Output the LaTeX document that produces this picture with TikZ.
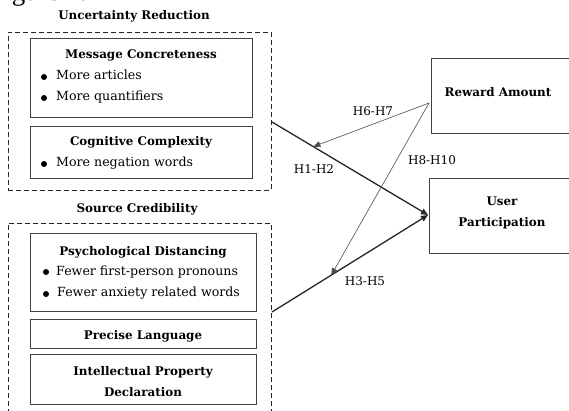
\documentclass[tikz,border=0pt]{standalone}
\usepackage{fontspec}
\setmainfont{DejaVu Serif}
\newfontfamily\timesf{Liberation Serif}
\usetikzlibrary{arrows.meta}
\begin{document}
\begin{tikzpicture}[x=1pt,y=-1pt,
  solidbox/.style={draw=black!75, line width=1.3pt, inner sep=0pt, anchor=north west},
  dashbox/.style={draw=black!85, dash pattern=on 5pt off 3pt, line width=0.9pt, inner sep=0pt, anchor=north west},
  ttl/.style={font=\bfseries\fontsize{11.9}{13}\selectfont, inner sep=0pt},
  txt/.style={font=\fontsize{12.6}{15}\selectfont, inner sep=0pt, anchor=base west},
  hlab/.style={font=\fontsize{12}{14}\selectfont, inner sep=0pt},
  bul/.style={circle, fill=black, inner sep=0pt, minimum size=6pt},
  mainarrow/.style={line width=1.3pt, draw=black!85, -{Triangle[length=7pt,width=6pt]}},
  modarrow/.style={line width=0.6pt, draw=black!70, -{Triangle[length=7pt,width=6pt]}},
]
\useasboundingbox (0,0) rectangle (569,411);
\node[font=\timesf\fontsize{27}{29}\selectfont, inner sep=0pt, anchor=base east] (fig) at (87,1) {Figure 1.};

% Uncertainty Reduction group
\node[ttl, anchor=base] (urt) at (134,20) {Uncertainty Reduction};
\node[dashbox, minimum width=263pt, minimum height=158pt] (ur) at (8,32) {};
\node[solidbox, minimum width=222pt, minimum height=79pt] (mc) at (30,38) {};
\node[ttl, anchor=base] (mct) at (141,59) {Message Concreteness};
\node[bul] (b1) at (44,77) {};
\node[txt] (t1) at (56,80) {More articles};
\node[bul] (b2) at (44,98) {};
\node[txt] (t2) at (56,101) {More quantifiers};
\node[solidbox, minimum width=222pt, minimum height=52pt] (cc) at (30,126) {};
\node[ttl, anchor=base] (cct) at (141,146) {Cognitive Complexity};
\node[bul] (b3) at (44,164) {};
\node[txt] (t3) at (56,167) {More negation words};

% Source Credibility group
\node[ttl, anchor=base] (sct) at (137,213) {Source Credibility};
\node[dashbox, minimum width=263pt, minimum height=200pt] (sc) at (8,223) {};
\node[solidbox, minimum width=226pt, minimum height=78pt] (pd) at (30,233) {};
\node[ttl, anchor=base] (pdt) at (143,255) {Psychological Distancing};
\node[bul] (b4) at (46,272) {};
\node[txt] (t4) at (56,275) {Fewer first-person pronouns};
\node[bul] (b5) at (46,294) {};
\node[txt] (t5) at (57,296) {Fewer anxiety related words};
\node[solidbox, minimum width=226pt, minimum height=29pt] (pl) at (30,319) {};
\node[ttl, anchor=base] (plt) at (143,339) {Precise Language};
\node[solidbox, minimum width=226pt, minimum height=50pt] (ip) at (30,354) {};
\node[ttl, anchor=base] (ipt1) at (143,375) {Intellectual Property};
\node[ttl, anchor=base] (ipt2) at (143,396) {Declaration};

% Right boxes
\node[solidbox, minimum width=149pt, minimum height=75pt] (ra) at (431,58) {};
\node[ttl] (rat) at (498,92) {Reward Amount};
\node[solidbox, minimum width=151pt, minimum height=75pt] (up) at (429,178) {};
\node[ttl, anchor=base] (upt1) at (502,206) {User};
\node[ttl, anchor=base] (upt2) at (502,227) {Participation};

% connectors
\coordinate (urS) at (272,122);
\coordinate (scS) at (272,312);
\coordinate (raS) at (429,103);
\coordinate (upE) at (428,215);
\draw[mainarrow] (urS) -- (upE) coordinate[pos=0.265] (m1);
\draw[mainarrow] (scS) -- (upE) coordinate[pos=0.38] (m2);
\draw[modarrow] (raS) -- (m1);
\draw[modarrow] (raS) -- (m2);

\node[hlab] (h67) at (373,111) {H6-H7};
\node[hlab] (h12) at (314,169) {H1-H2};
\node[hlab] (h810) at (432,160) {H8-H10};
\node[hlab] (h35) at (365,281) {H3-H5};
\end{tikzpicture}
\end{document}
